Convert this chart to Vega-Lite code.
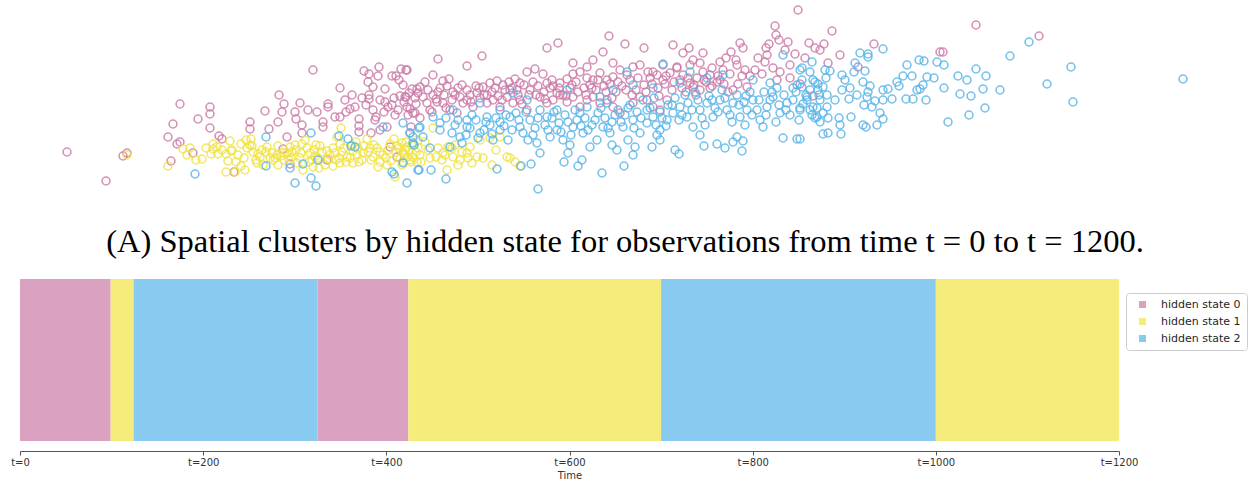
{
"$schema": "https://vega.github.io/schema/vega-lite/v6.json",
"padding": {"left": 10, "top": 0, "right": 0, "bottom": 0},
"bounds": "flush",
"spacing": 79,
"config": {"view": {"stroke": null}, "font": "DejaVu Sans"},
"resolve": {"scale": {"color": "independent", "x": "independent"}},
"datasets": {
"pink": [[67,152],[106,181],[123,156],[127,153],[180,104],[173,124],[198,119],[210,107],[210,114],[210,128],[168,137],[180,142],[177,144],[171,161],[219,136],[222,139],[193,153],[234,172],[250,122],[250,129],[265,111],[269,129],[279,95],[284,104],[282,112],[278,122],[313,70],[300,103],[308,110],[295,112],[296,119],[302,125],[317,112],[323,122],[323,127],[328,104],[328,107],[340,88],[335,117],[340,117],[346,112],[350,109],[355,107],[364,71],[369,74],[379,67],[378,76],[368,82],[373,87],[369,95],[369,99],[385,89],[359,119],[359,126],[359,132],[373,110],[376,117],[375,120],[385,102],[388,107],[392,76],[396,76],[399,80],[401,69],[406,70],[394,98],[400,96],[406,97],[412,89],[417,89],[395,115],[387,127],[410,109],[415,113],[411,127],[287,137],[302,133],[290,164],[283,149],[327,160],[371,133],[380,130],[390,147],[397,157],
[438,59],[407,70],[467,66],[482,56],[433,75],[443,81],[449,79],[420,87],[428,90],[405,97],[415,98],[423,97],[433,95],[440,88],[447,86],[453,92],[460,97],[467,90],[477,93],[483,87],[490,83],[497,81],[503,85],[510,90],[515,79],[520,83],[527,72],[535,69],[533,82],[543,74],[547,83],[553,86],[560,83],[567,79],[573,74],[580,72],[587,78],[593,80],[600,73],[607,80],[613,77],[620,70],[627,75],[633,67],[640,65],[648,72],[657,75],[663,80],[670,73],[677,67],[683,75],[690,83],[697,78],[703,72],[710,75],[717,82],[723,70],
[407,107],[413,113],[420,118],[408,115],[430,110],[437,102],[443,103],[450,110],[457,113],[467,100],[473,107],[480,98],[487,103],[493,100],[500,107],[507,97],[513,103],[520,100],[527,110],[540,97],[547,103],[553,100],[560,95],[567,102],[573,97],[580,107],[587,100],[593,97],[600,103],[607,100],[613,107],[620,113],[633,103],[640,97],[647,100],[653,107],[660,110],[667,100],
[609,36],[558,43],[547,48],[625,44],[644,48],[603,52],[673,45],[689,48],[683,53],[703,53],[798,10],[775,26],[776,35],[779,40],[769,44],[788,42],[740,43],[743,48],[731,52],[726,58],[737,65],[765,62],[767,55],[790,65],[795,54],[820,50],[720,62],[693,60],[663,65],[653,72],[677,68],[690,65],[700,63],[613,63],[593,60],[573,63],[587,67],[733,90],[747,87],[777,80],[710,88],[693,87],
[832,31],[809,43],[824,44],[840,55],[828,63],[874,44],[858,67],[976,25],[1039,36],[940,52],[943,52],[813,96],
[345,100],[352,95],[362,98],[366,105],[380,100],[384,112],[392,105],[398,110],[404,102],[409,93],[416,104],[427,103],[432,112],[438,92],[444,95],[452,100],[458,88],[463,103],[470,95],[476,86],[484,95],[492,92],[498,96],[505,90],[512,88],[518,95],[524,85],[530,90],[536,95],[544,92],[550,88],[557,93],[563,95],[570,88],[576,82],[584,88],[590,85],[596,90],[604,86],[610,84],[616,92],[622,86],[630,80],[636,90],[644,85],[650,78],[658,88],[665,84],[672,90],[680,80],[686,92],[694,85],[700,90],[706,82],[712,68],[718,76],[724,84],[730,74],[736,60],[745,70],[750,76],[758,58],[766,48],[773,68],[780,72],[790,78],[800,84],
[403,85],[418,93],[425,82],[436,99],[446,108],[455,95],[462,85],[471,102],[479,88],[487,95],[495,88],[502,100],[509,82],[517,90],[522,104],[529,95],[538,86],[545,99],[552,80],[559,88],[566,96],[572,85],[578,92],[586,95],[592,88],[598,80],[606,92],[612,98],[618,82],[626,90],[632,95],[638,78],[646,92],[652,84],[659,96],[666,76],[674,82],[682,88],[688,78],[696,95],[704,80],[712,86],[720,80],[728,92],[738,84],[742,76],[755,70],[762,74],[785,50],[805,58],[815,48]],
"yellow": [[127,155],[168,166],[183,149],[190,148],[187,155],[202,159],[213,144],[213,149],[211,154],[218,154],[217,147],[226,154],[231,151],[230,141],[228,161],[236,162],[241,166],[226,172],[235,172],[241,144],[246,140],[251,139],[247,148],[253,152],[258,154],[257,163],[263,165],[267,147],[272,153],[277,155],[275,158],[281,156],[287,153],[290,147],[296,150],[291,158],[297,163],[302,144],[307,148],[310,153],[314,150],[318,158],[313,167],[319,168],[325,165],[328,159],[333,166],[333,148],[340,144],[342,152],[347,157],[353,151],[358,148],[363,153],[359,162],[353,163],[340,163],[337,137],[341,128],[367,139],[370,148],[373,157],[380,162],[378,167],[387,165],[388,150],[394,139],[397,146],[403,153],[407,147],[413,157],[417,162],[395,177],[402,165],
[433,128],[438,148],[443,153],[447,170],[453,157],[458,165],[467,153],[470,147],[477,157],[480,140],[490,138],[492,165],[500,137],[507,157],[510,158],[520,166],[402,143],[405,150],[408,157],[412,145],[416,152],[403,162],[410,160],[418,140],[420,155],
[250,145],[256,160],[262,150],[270,158],[278,146],[284,160],[292,152],[300,158],[305,140],[312,160],[316,145],[322,152],[330,155],[336,160],[344,148],[350,158],[356,142],[362,160],[368,152],[374,145],[380,152],[386,158],[390,144],[396,152],[400,158],[406,142],[411,162],[418,148],[425,142],[430,158],[442,160],[448,147],[455,145],[462,152],[472,163],[483,158],[496,150],[515,162],[303,170],[278,165],[232,150],[206,148],[196,160],[245,170],
[222,150],[238,155],[244,158],[252,146],[260,157],[266,152],[273,160],[283,153],[289,160],[295,145],[301,153],[309,162],[315,156],[320,146],[327,151],[335,153],[339,158],[346,162],[352,145],[357,154],[364,146],[371,160],[377,148],[383,155],[391,161],[399,148],[404,155],[409,150],[414,145],[421,162],[428,150],[436,157],[445,155],[452,148],[460,160],[468,158]],
"blue": [[195,174],[266,137],[266,166],[290,168],[303,164],[311,133],[295,183],[311,178],[316,186],[318,160],[339,136],[348,139],[351,146],[355,147],[383,127],[403,123],[403,163],[392,172],[394,174],[407,183],[410,133],[413,137],[414,145],[418,170],[419,128],
[538,189],[419,170],[431,170],[446,179],[497,169],[521,166],[531,164],[564,162],[578,166],[582,160],[602,173],[624,166],[633,155],[635,147],[628,140],[652,147],[657,135],[675,150],[679,154],[704,146],[717,144],[725,148],[733,142],[737,137],[742,151],[743,141],[783,138],[797,139],
[430,148],[450,147],[460,137],[467,127],[480,133],[493,140],[500,130],[510,117],[520,127],[528,140],[537,143],[540,153],[550,137],[557,130],[563,140],[568,153],[573,127],[583,133],[590,147],[597,140],[603,127],[610,133],[617,150],[623,127],[633,120],[640,133],[647,123],[653,117],[660,130],[667,120],[673,113],[680,107],[687,117],[693,127],[700,110],[707,103],[713,117],[720,100],[727,110],[733,103],[740,117],[747,110],[753,100],[760,120],[763,127],[767,107],[773,97],[780,113],[787,103],[793,100],[800,110],[807,97],[813,107],[817,117],[753,80],[770,83],[783,55],[797,85],[810,72],[802,68],[813,80],[690,72],[707,78],[723,75],[663,64],[680,83],[653,88],[633,85],[627,72],[613,90],[607,103],[600,97],[587,107],[580,113],[567,90],[557,110],[547,117],[540,110],[527,100],[513,93],[500,110],[487,117],[480,103],[467,120],[453,110],[440,123],[433,117],[420,127],[410,133],[413,143],[423,137],
[800,70],[802,80],[802,87],[812,62],[815,82],[818,90],[807,100],[825,70],[830,71],[823,87],[827,95],[820,100],[827,107],[817,108],[810,110],[823,113],[815,118],[828,118],[820,122],[800,108],[800,139],[842,75],[839,118],[840,125],[841,134],[823,134],[828,133],[850,88],[842,90],[849,99],[851,117],[855,63],[860,53],[868,54],[868,57],[865,71],[854,72],[863,82],[870,86],[868,92],[867,97],[864,105],[872,107],[875,101],[883,90],[888,89],[883,100],[892,99],[880,113],[883,119],[877,125],[863,125],[866,127],[883,49],[897,82],[899,86],[903,76],[907,65],[912,76],[906,99],[913,99],[917,90],[920,89],[923,85],[927,77],[934,78],[926,100],[919,60],[924,61],[937,62],[944,65],[944,88],[948,122],[958,76],[967,80],[976,69],[986,76],[960,94],[971,96],[983,89],[1000,90],[969,115],[985,108],[1010,56],[1029,42],[1047,84],[1071,67],[1073,102],[1183,79],
[440,130],[446,118],[455,125],[462,143],[470,128],[476,120],[484,130],[490,125],[496,118],[504,126],[508,140],[516,113],[523,133],[530,120],[535,128],[545,125],[552,118],[559,123],[565,115],[571,135],[577,120],[585,118],[592,125],[598,113],[605,118],[612,122],[618,110],[625,115],[630,105],[637,112],[643,100],[650,108],[656,125],[662,118],[668,105],[675,98],[682,115],[688,103],[695,92],[702,118],[709,96],[715,108],[722,90],[730,115],[737,95],[744,102],[750,92],[757,110],[764,92],[770,100],[777,88],[784,95],[790,115],[796,92],[803,104],[810,90],[818,84],[776,122],[745,125],[700,135],[660,140],[612,145],[570,145],
[452,133],[458,120],[466,135],[472,115],[478,138],[486,122],[492,134],[500,122],[506,115],[512,130],[519,120],[526,112],[533,135],[538,118],[548,130],[554,112],[561,132],[568,122],[575,110],[581,126],[588,130],[595,120],[601,108],[608,128],[615,115],[621,122],[628,108],[634,128],[641,118],[647,110],[654,98],[660,112],[666,126],[672,105],[679,120],[685,95],[692,110],[698,100],[705,125],[712,100],[718,112],[725,98],[732,122],[739,105],[746,96],[752,115],[759,100],[766,115],[772,92],[779,105],[786,110],[793,88],[799,120],[806,95],[812,115],[819,95],[826,78],[835,100],[845,80],[857,95]]
},
"vconcat": [
{
"width": 1228,
"height": 200,
"title": {"text": "(A) Spatial clusters by hidden state for observations from time t = 0 to t = 1200.", "orient": "bottom", "anchor": "middle", "font": "Liberation Serif", "fontSize": 32.5, "fontWeight": "normal", "color": "#000000", "offset": 26, "dx": -9},
"layer": [
{"data": {"name": "pink"}, "transform": [{"calculate": "datum[0]", "as": "x"}, {"calculate": "datum[1]", "as": "y"}, {"calculate": "'0'", "as": "state"}],
 "mark": {"type": "point", "filled": false, "size": 62, "strokeWidth": 1.6, "opacity": 0.8},
 "encoding": {
  "x": {"field": "x", "type": "quantitative", "scale": {"domain": [20, 1248], "nice": false, "zero": false}, "axis": null},
  "y": {"field": "y", "type": "quantitative", "scale": {"domain": [0, 200], "reverse": true, "nice": false, "zero": false}, "axis": null},
  "color": {"field": "state", "type": "nominal", "scale": {"domain": ["0", "1", "2"], "range": ["#CC79A7", "#F0E442", "#56B4E9"]}, "legend": null}}},
{"data": {"name": "yellow"}, "transform": [{"calculate": "datum[0]", "as": "x"}, {"calculate": "datum[1]", "as": "y"}, {"calculate": "'1'", "as": "state"}],
 "mark": {"type": "point", "filled": false, "size": 62, "strokeWidth": 1.6, "opacity": 0.8},
 "encoding": {
  "x": {"field": "x", "type": "quantitative"},
  "y": {"field": "y", "type": "quantitative"},
  "color": {"field": "state", "type": "nominal"}}},
{"data": {"name": "blue"}, "transform": [{"calculate": "datum[0]", "as": "x"}, {"calculate": "datum[1]", "as": "y"}, {"calculate": "'2'", "as": "state"}],
 "mark": {"type": "point", "filled": false, "size": 62, "strokeWidth": 1.6, "opacity": 0.8},
 "encoding": {
  "x": {"field": "x", "type": "quantitative"},
  "y": {"field": "y", "type": "quantitative"},
  "color": {"field": "state", "type": "nominal"}}}
]
},
{
"width": 1099,
"height": 162,
"data": {"values": [
 {"start": 0, "end": 99, "state": "hidden state 0"},
 {"start": 99, "end": 124, "state": "hidden state 1"},
 {"start": 124, "end": 325, "state": "hidden state 2"},
 {"start": 325, "end": 424, "state": "hidden state 0"},
 {"start": 424, "end": 700, "state": "hidden state 1"},
 {"start": 700, "end": 1000, "state": "hidden state 2"},
 {"start": 1000, "end": 1200, "state": "hidden state 1"}
]},
"mark": {"type": "rect"},
"encoding": {
 "x": {"field": "start", "type": "quantitative", "scale": {"domain": [0, 1200], "nice": false},
  "axis": {"values": [0, 200, 400, 600, 800, 1000, 1200], "labelExpr": "'t=' + datum.value", "title": "Time", "grid": false, "domainColor": "#555555", "tickColor": "#555555", "tickSize": 4, "offset": 10, "labelFont": "DejaVu Sans", "labelFontSize": 10, "labelColor": "#333333", "labelPadding": 2, "labelFlush": false, "titleFont": "DejaVu Sans", "titleFontSize": 10, "titleFontWeight": "normal", "titleColor": "#333333", "titlePadding": 3}},
 "x2": {"field": "end"},
 "color": {"field": "state", "type": "nominal", "scale": {"domain": ["hidden state 0", "hidden state 1", "hidden state 2"], "range": ["#DBA1C1", "#F5EC7B", "#89CBF0"]},
  "legend": {"orient": "none", "legendX": 1106, "legendY": 14, "title": null, "symbolType": "square", "symbolSize": 49, "symbolStrokeWidth": 0, "labelFont": "DejaVu Sans", "labelFontSize": 11, "labelColor": "#262626", "strokeColor": "#cccccc", "fillColor": "#ffffff", "cornerRadius": 3, "padding": 6, "rowPadding": 5, "symbolOffset": 5, "labelOffset": 13}}
}
}
]
}
